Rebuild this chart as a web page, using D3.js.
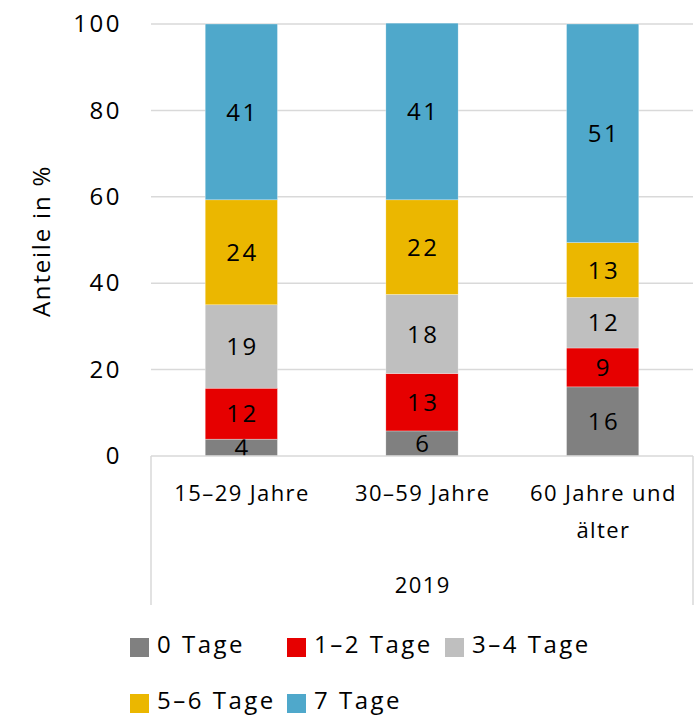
<!DOCTYPE html>
<html>
<head>
<meta charset="utf-8">
<script src="https://cdn.jsdelivr.net/npm/d3@7"></script>
<style>
  body { margin: 0; background: #fff; }
  text { font-family: "Open Sans", sans-serif; fill: #000; }
</style>
</head>
<body>
<div id="chart-area"></div>
<script>
// data
var groups = ["15–29 Jahre", "30–59 Jahre", "60 Jahre und|älter"];
var seriesNames = ["0 Tage", "1–2 Tage", "3–4 Tage", "5–6 Tage", "7 Tage"];
var seriesColors = ["#808080", "#E60000", "#BFBFBF", "#EBB700", "#4FA8CB"];
var tage0 = [3.9, 5.8, 16.0];
var tage12 = [11.8, 13.3, 9.0];
var tage34 = [19.3, 18.3, 11.7];
var tage56 = [24.3, 21.9, 12.7];
var tage7 = [40.7, 40.9, 50.6];
var yTicks = [0, 20, 40, 60, 80, 100];
var yearLabel = "2019";
var yTitle = "Anteile in %";

var width = 700, height = 715;
var margin = {top: 24, right: 7, bottom: 259, left: 151};
var ls = 2.5; // letter spacing, the source font runs wide

var svg = d3.select("#chart-area").append("svg")
  .attr("width", width).attr("height", height);

var x = d3.scaleBand()
  .domain(groups)
  .range([margin.left, width - margin.right])
  .paddingInner(0.6).paddingOuter(0.3);

var y = d3.scaleLinear()
  .domain([0, 100])
  .range([height - margin.bottom, margin.top]);

var allSeries = [tage0, tage12, tage34, tage56, tage7];
var table = groups.map(function(g, i) {
  var row = {group: g};
  seriesNames.forEach(function(s, j) { row[s] = allSeries[j][i]; });
  return row;
});
var stacked = d3.stack().keys(seriesNames)(table);

// gridlines
svg.append("g").selectAll("line")
  .data(yTicks.filter(function(t) { return t > 0; }))
  .enter().append("line")
  .attr("x1", margin.left).attr("x2", width - margin.right)
  .attr("y1", function(d) { return y(d); }).attr("y2", function(d) { return y(d); })
  .attr("stroke", "#D9D9D9").attr("stroke-width", 1.5);

// y axis labels
var yAxis = d3.axisLeft(y).tickValues(yTicks).tickSize(0).tickPadding(29);
var ya = svg.append("g")
  .attr("transform", "translate(" + margin.left + ",0)")
  .call(yAxis);
ya.select(".domain").remove();
ya.selectAll("text")
  .style("font-size", "24px").style("letter-spacing", ls + "px")
  .attr("font-family", "Open Sans");

svg.append("text")
  .attr("transform", "translate(50," + (y(50) + 1) + ") rotate(-90)")
  .attr("text-anchor", "middle")
  .style("font-size", "24px").style("letter-spacing", "1.8px")
  .text(yTitle);

// bars
var layer = svg.append("g").selectAll("g")
  .data(stacked).enter().append("g")
  .attr("fill", function(d, i) { return seriesColors[i]; });

layer.selectAll("rect")
  .data(function(d) { return d; })
  .enter().append("rect")
  .attr("x", function(d) { return x(d.data.group); })
  .attr("width", x.bandwidth())
  .attr("y", function(d) { return y(d[1]); })
  .attr("height", function(d) { return y(d[0]) - y(d[1]); })
  .attr("stroke", "#fff").attr("stroke-width", 0.5).attr("stroke-opacity", 0.6);

// value labels
layer.selectAll("text")
  .data(function(d) { return d; })
  .enter().append("text")
  .attr("x", function(d) { return x(d.data.group) + x.bandwidth() / 2 + ls / 2; })
  .attr("y", function(d) { return (y(d[0]) + y(d[1])) / 2; })
  .attr("dy", "0.36em")
  .attr("text-anchor", "middle")
  .style("font-size", "24px").style("letter-spacing", ls + "px")
  .text(function(d) { return Math.round(d[1] - d[0]); });

// category axis box
var base = y(0);
var boxBottom = 605;
var axisG = svg.append("g").attr("stroke", "#D9D9D9").attr("stroke-width", 1.5);
axisG.append("line").attr("x1", margin.left).attr("x2", width - margin.right)
  .attr("y1", base).attr("y2", base);
axisG.append("line").attr("x1", margin.left).attr("x2", margin.left)
  .attr("y1", base).attr("y2", boxBottom);
axisG.append("line").attr("x1", width - margin.right).attr("x2", width - margin.right)
  .attr("y1", base).attr("y2", boxBottom);

var catLabels = svg.append("g").selectAll("text")
  .data(groups).enter().append("text")
  .attr("y", 501)
  .attr("text-anchor", "middle")
  .style("font-size", "22px").style("letter-spacing", "1.4px");
catLabels.each(function(d) {
  var parts = d.split("|");
  var t = d3.select(this);
  parts.forEach(function(p, i) {
    t.append("tspan")
      .attr("x", x(d) + x.bandwidth() / 2 + 0.7)
      .attr("dy", i === 0 ? 0 : 37)
      .text(p);
  });
});

svg.append("text")
  .attr("x", (margin.left + width - margin.right) / 2 + 0.7)
  .attr("y", 593)
  .attr("text-anchor", "middle")
  .style("font-size", "22px").style("letter-spacing", "1.4px")
  .text(yearLabel);

// legend
var legendPos = [[130, 638], [287, 638], [445, 638], [130, 694], [287, 694]];
var legend = svg.append("g").selectAll("g")
  .data(seriesNames).enter().append("g")
  .attr("transform", function(d, i) { return "translate(" + legendPos[i][0] + "," + legendPos[i][1] + ")"; });
legend.append("rect")
  .attr("width", 19).attr("height", 19)
  .attr("fill", function(d, i) { return seriesColors[i]; });
legend.append("text")
  .attr("x", 27).attr("y", 15)
  .style("font-size", "24px").style("letter-spacing", ls + "px")
  .text(function(d) { return d; });
</script>
</body>
</html>
